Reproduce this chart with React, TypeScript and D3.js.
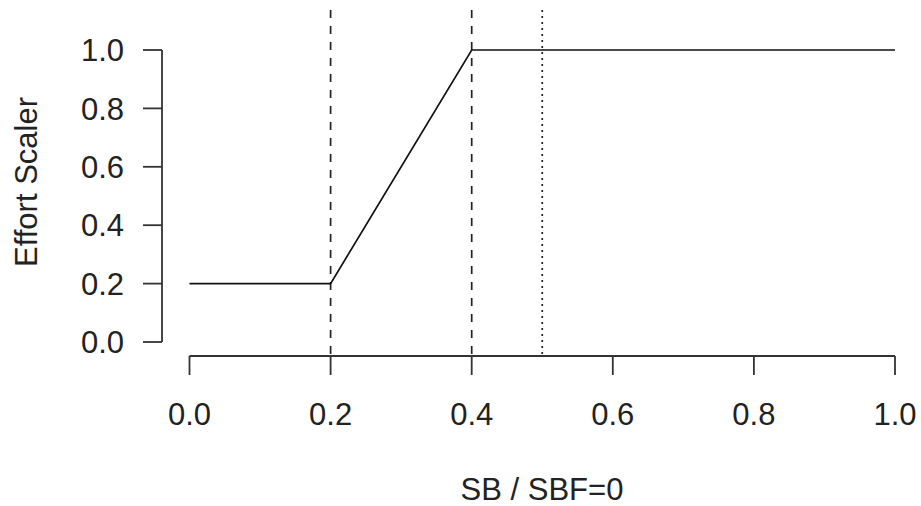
import React from 'react';
import { scaleLinear, line } from 'd3';

const xValues = [0, 0.2, 0.4, 1.0];
const yValues = [0.2, 0.2, 1.0, 1.0];
const dashedAt = [0.2, 0.4];
const dottedAt = [0.5];
const xTicks = [0, 0.2, 0.4, 0.6, 0.8, 1.0];
const yTicks = [0, 0.2, 0.4, 0.6, 0.8, 1.0];

const width = 921;
const height = 506;
const font = 'Liberation Sans, Arial, sans-serif';
const fs = 31;

const xScale = scaleLinear().domain([0, 1]).range([189.5, 895]);
const yScale = scaleLinear().domain([0, 1]).range([342, 50]);

const plotTop = 10;
const plotBottom = 356;
const yAxisX = 162;
const xAxisY = 356;
const tickLen = 19;

const App = () => {
  const pts = xValues.map((x, i) => [x, yValues[i]] as [number, number]);
  const path = line<[number, number]>()
    .x(d => xScale(d[0]))
    .y(d => yScale(d[1]))(pts);

  return (
    <svg
      width={width}
      height={height}
      style={{ position: 'absolute', left: 0, top: 0, background: 'white' }}>
      {/* y axis */}
      <line x1={yAxisX} x2={yAxisX} y1={yScale(0)} y2={yScale(1)} stroke='#333' strokeWidth={1.8} />
      {yTicks.map(t => (
        <g key={t} transform={`translate(0, ${yScale(t)})`}>
          <line x1={yAxisX - tickLen} x2={yAxisX} stroke='#333' strokeWidth={1.8} />
          <text x={124} dy='.36em' textAnchor='end' fontFamily={font} fontSize={fs} fill='#222'>
            {t.toFixed(1)}
          </text>
        </g>
      ))}
      {/* x axis */}
      <line x1={xScale(0)} x2={xScale(1)} y1={xAxisY} y2={xAxisY} stroke='#333' strokeWidth={1.8} />
      {xTicks.map(t => (
        <g key={t} transform={`translate(${xScale(t)}, 0)`}>
          <line y1={xAxisY} y2={xAxisY + tickLen} stroke='#333' strokeWidth={1.8} />
          <text y={414} dy='.36em' textAnchor='middle' fontFamily={font} fontSize={fs} fill='#222'>
            {t.toFixed(1)}
          </text>
        </g>
      ))}
      {/* reference lines */}
      {dashedAt.map(v => (
        <line key={v} x1={xScale(v)} x2={xScale(v)} y1={plotTop} y2={plotBottom}
          stroke='#222' strokeWidth={1.7} strokeDasharray='8,8' />
      ))}
      {dottedAt.map(v => (
        <line key={v} x1={xScale(v)} x2={xScale(v)} y1={plotTop} y2={plotBottom}
          stroke='#222' strokeWidth={1.7} strokeDasharray='2,4' />
      ))}
      <path d={path ?? ''} fill='none' stroke='#111' strokeWidth={1.7} />
      <text x={542} y={489} dy='.36em' textAnchor='middle' fontFamily={font} fontSize={fs} fill='#222'>
        SB / SBF=0
      </text>
      <text transform='translate(26, 182) rotate(-90)' dy='.36em' textAnchor='middle'
        fontFamily={font} fontSize={fs} fill='#222'>
        Effort Scaler
      </text>
    </svg>
  );
};

export default App;
